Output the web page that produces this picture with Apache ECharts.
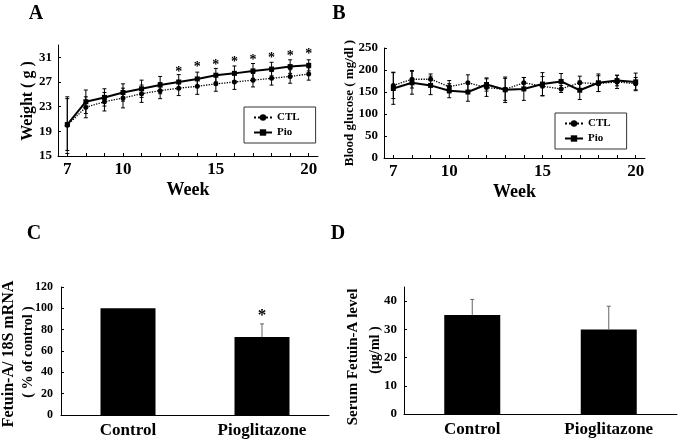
<!DOCTYPE html>
<html><head><meta charset="utf-8">
<script src="https://cdn.jsdelivr.net/npm/echarts@6/dist/echarts.min.js"></script>
<style>html,body{margin:0;padding:0;background:#fff}#c{width:680px;height:444px}</style>
</head><body><div id="c"></div>
<script>
// ---------- data ----------
const weeks = [7, 8, 9, 10, 11, 12, 13, 14, 15, 16, 17, 18, 19, 20];
const weekLabels = [7, 10, 15, 20];

const weightCTL    = [20.0, 22.9, 23.8, 24.4, 25.1, 25.6, 26.0, 26.3, 26.7, 27.0, 27.3, 27.6, 27.9, 28.3];
const weightCTLErr = [4.6, 1.7, 1.5, 1.6, 1.4, 1.3, 1.2, 1.3, 1.2, 1.2, 1.1, 1.1, 1.1, 1.0];
const weightPio    = [20.1, 23.8, 24.5, 25.3, 25.9, 26.5, 27.0, 27.5, 28.1, 28.4, 28.8, 29.1, 29.5, 29.7];
const weightPioErr = [4.2, 1.9, 1.4, 1.4, 1.4, 1.4, 1.2, 1.1, 1.1, 1.2, 1.2, 1.1, 1.1, 0.9];
const weightTicks  = [15, 19, 23, 27, 31];
const starWeeks    = [13, 14, 15, 16, 17, 18, 19, 20];
const starLevels   = [29.1, 29.9, 30.2, 30.6, 31.0, 31.3, 31.7, 32.0];

const gluCTL    = [165, 179, 179, 162, 171, 160, 156, 171, 163, 157, 171, 169, 173, 169];
const gluCTLErr = [30, 20, 12, 14, 18, 20, 25, 12, 22, 8, 15, 18, 15, 14];
const gluPio    = [158, 171, 165, 153, 150, 167, 155, 157, 168, 174, 154, 171, 176, 173];
const gluPioErr = [36, 26, 21, 16, 21, 15, 29, 26, 26, 18, 21, 20, 12, 20];

const groups   = ['Control', 'Pioglitazone'];
const mrnaVals = [100, 73.2];
const mrnaErr  = [0, 12.2];
const mrnaStar = [null, 96.6];
const serumVals = [35.1, 29.9];
const serumErr  = [5.5, 8.3];
const serumTicks = [0, 10, 20, 30, 40];

// ---------- helpers ----------
const F = "'Liberation Serif','Times New Roman',serif";
const BLK = '#000';

function errBars(idx, xs, vals, errs, cap) {
  return {
    type: 'custom', xAxisIndex: idx, yAxisIndex: idx, z: 1, silent: true,
    data: xs.map((x, i) => [x, vals[i] - errs[i], vals[i] + errs[i]]),
    renderItem: function (params, api) {
      const p1 = api.coord([api.value(0), api.value(2)]);
      const p2 = api.coord([api.value(0), api.value(1)]);
      const st = { stroke: BLK, lineWidth: 1 };
      return { type: 'group', children: [
        { type: 'line', shape: { x1: p1[0], y1: p1[1], x2: p2[0], y2: p2[1] }, style: st },
        { type: 'line', shape: { x1: p1[0] - cap, y1: p1[1], x2: p1[0] + cap, y2: p1[1] }, style: st },
        { type: 'line', shape: { x1: p2[0] - cap, y1: p2[1], x2: p2[0] + cap, y2: p2[1] }, style: st }
      ] };
    }
  };
}
function upBars(idx, vals, errs) {
  return {
    type: 'custom', xAxisIndex: idx, yAxisIndex: idx, z: 3, silent: true,
    data: vals.map((v, i) => [i, v, v + errs[i]]),
    renderItem: function (params, api) {
      if (api.value(2) <= api.value(1)) return null;
      const p1 = api.coord([api.value(0), api.value(1)]);
      const p2 = api.coord([api.value(0), api.value(2)]);
      const st = { stroke: '#666', lineWidth: 1 };
      return { type: 'group', children: [
        { type: 'line', shape: { x1: p1[0], y1: p1[1], x2: p2[0], y2: p2[1] }, style: st },
        { type: 'line', shape: { x1: p2[0] - 2, y1: p2[1], x2: p2[0] + 2, y2: p2[1] }, style: st }
      ] };
    }
  };
}
function stars(idx, xs, ys, size) {
  return {
    type: 'custom', xAxisIndex: idx, yAxisIndex: idx, z: 4, silent: true, clip: false,
    data: xs.map((x, i) => [x, ys[i]]).filter(d => d[1] != null),
    renderItem: function (params, api) {
      const p = api.coord([api.value(0), api.value(1)]);
      return { type: 'text', x: p[0], y: p[1] + size * 0.22,
        style: { text: '*', font: 'bold ' + size + 'px ' + F, fill: BLK, align: 'center', verticalAlign: 'middle' } };
    }
  };
}
const lbl = (size, margin, extra) => Object.assign({ fontFamily: F, fontWeight: 'bold', fontSize: size, color: BLK, margin: margin }, extra || {});
const line = { show: true, onZero: false, lineStyle: { color: BLK, width: 1 } };
const tick = (extra) => Object.assign({ show: true, inside: true, length: 3, lineStyle: { color: BLK } }, extra || {});

function weekAxis(idx) {
  return {
    type: 'value', gridIndex: idx, min: 6.5, max: 20.5,
    axisLine: line, splitLine: { show: false },
    axisTick: tick({ customValues: weeks }),
    axisLabel: lbl(17, 5, { customValues: weekLabels }),
    name: 'Week', nameLocation: 'middle', nameGap: 25,
    nameTextStyle: { fontFamily: F, fontWeight: 'bold', fontSize: 18, color: BLK }
  };
}
function catAxis(idx) {
  return {
    type: 'category', gridIndex: idx, data: groups, boundaryGap: true,
    axisLine: line, axisTick: { show: false },
    axisLabel: lbl(17, 7)
  };
}
function legendAt(left, top) {
  return {
    left: left, top: top, orient: 'vertical', data: ['CTL', 'Pio'],
    itemWidth: 18, itemHeight: 8, itemGap: 4,
    padding: [5, 16, 5, 9], borderColor: '#333', borderWidth: 1,
    textStyle: { fontFamily: F, fontWeight: 'bold', fontSize: 11, color: BLK },
    selectedMode: false
  };
}
const ctlStyle = { symbol: 'circle', symbolSize: 5, lineStyle: { type: 'dotted', width: 1.3, color: BLK }, itemStyle: { color: BLK } };
const pioStyle = { symbol: 'rect', symbolSize: 5, lineStyle: { type: 'solid', width: 2, color: BLK }, itemStyle: { color: BLK } };

const chart = echarts.init(document.getElementById('c'), null, { renderer: 'canvas' });
chart.setOption({
  animation: false,
  backgroundColor: '#fff',
  grid: [
    { left: 58, top: 45, width: 260, height: 111 },
    { left: 384, top: 48, width: 261, height: 110 },
    { left: 61, top: 287, width: 268, height: 128 },
    { left: 404, top: 287, width: 273, height: 127 }
  ],
  xAxis: [weekAxis(0), weekAxis(1), catAxis(2), catAxis(3)],
  yAxis: [
    { type: 'value', gridIndex: 0, min: 15, max: 33, axisLine: line, splitLine: { show: false },
      axisTick: tick({ customValues: weightTicks }), axisLabel: lbl(13, 6, { customValues: weightTicks }) },
    { type: 'value', gridIndex: 1, min: 0, max: 250, interval: 50, axisLine: line, splitLine: { show: false },
      axisTick: tick(), axisLabel: lbl(13, 6) },
    { type: 'value', gridIndex: 2, min: 0, max: 120, interval: 20, axisLine: line, splitLine: { show: false },
      axisTick: tick(), axisLabel: lbl(12, 8) },
    { type: 'value', gridIndex: 3, min: 0, max: 45, axisLine: line, splitLine: { show: false },
      axisTick: tick({ customValues: serumTicks }), axisLabel: lbl(13, 7, { customValues: serumTicks }) }
  ],
  legend: [legendAt(244, 107), legendAt(555, 113)],
  series: [
    errBars(0, weeks, weightCTL, weightCTLErr, 2),
    errBars(0, weeks, weightPio, weightPioErr, 2),
    Object.assign({ type: 'line', name: 'CTL', xAxisIndex: 0, yAxisIndex: 0, z: 2,
      data: weeks.map((w, i) => [w, weightCTL[i]]) }, ctlStyle),
    Object.assign({ type: 'line', name: 'Pio', xAxisIndex: 0, yAxisIndex: 0, z: 2,
      data: weeks.map((w, i) => [w, weightPio[i]]) }, pioStyle),
    stars(0, starWeeks, starLevels, 14),

    errBars(1, weeks, gluCTL, gluCTLErr, 2),
    errBars(1, weeks, gluPio, gluPioErr, 2),
    Object.assign({ type: 'line', name: 'CTL', xAxisIndex: 1, yAxisIndex: 1, z: 2,
      data: weeks.map((w, i) => [w, gluCTL[i]]) }, ctlStyle),
    Object.assign({ type: 'line', name: 'Pio', xAxisIndex: 1, yAxisIndex: 1, z: 2,
      data: weeks.map((w, i) => [w, gluPio[i]]) }, pioStyle),

    { type: 'bar', xAxisIndex: 2, yAxisIndex: 2, data: mrnaVals, barWidth: 55, itemStyle: { color: BLK } },
    upBars(2, mrnaVals, mrnaErr),
    stars(2, [0, 1], mrnaStar, 17),

    { type: 'bar', xAxisIndex: 3, yAxisIndex: 3, data: serumVals, barWidth: 56, itemStyle: { color: BLK } },
    upBars(3, serumVals, serumErr)
  ],
  graphic: [
    { type: 'text', x: 36, y: 14, style: { text: 'A', font: 'bold 20px ' + F, fill: BLK, align: 'center', verticalAlign: 'middle' } },
    { type: 'text', x: 339, y: 14, style: { text: 'B', font: 'bold 20px ' + F, fill: BLK, align: 'center', verticalAlign: 'middle' } },
    { type: 'text', x: 34, y: 234, style: { text: 'C', font: 'bold 20px ' + F, fill: BLK, align: 'center', verticalAlign: 'middle' } },
    { type: 'text', x: 338, y: 234, style: { text: 'D', font: 'bold 20px ' + F, fill: BLK, align: 'center', verticalAlign: 'middle' } },
    { type: 'text', x: 28, y: 101, rotation: Math.PI / 2,
      style: { text: 'Weight ( g )', font: 'bold 16px ' + F, fill: BLK, align: 'center', verticalAlign: 'middle' } },
    { type: 'text', x: 350, y: 103, rotation: Math.PI / 2,
      style: { text: 'Blood glucose ( mg/dl )', font: 'bold 13px ' + F, fill: BLK, align: 'center', verticalAlign: 'middle' } },
    { type: 'text', x: 9, y: 354, rotation: Math.PI / 2,
      style: { text: 'Fetuin-A/ 18S mRNA', font: 'bold 16px ' + F, fill: BLK, align: 'center', verticalAlign: 'middle' } },
    { type: 'text', x: 28, y: 352, rotation: Math.PI / 2,
      style: { text: '( % of control )', font: 'bold 14px ' + F, fill: BLK, align: 'center', verticalAlign: 'middle' } },
    { type: 'text', x: 353, y: 357, rotation: Math.PI / 2,
      style: { text: 'Serum Fetuin-A level', font: 'bold 15px ' + F, fill: BLK, align: 'center', verticalAlign: 'middle' } },
    { type: 'text', x: 375, y: 350, rotation: Math.PI / 2,
      style: { text: '(µg/ml )', font: 'bold 14px ' + F, fill: BLK, align: 'center', verticalAlign: 'middle' } }
  ]
});
</script></body></html>
